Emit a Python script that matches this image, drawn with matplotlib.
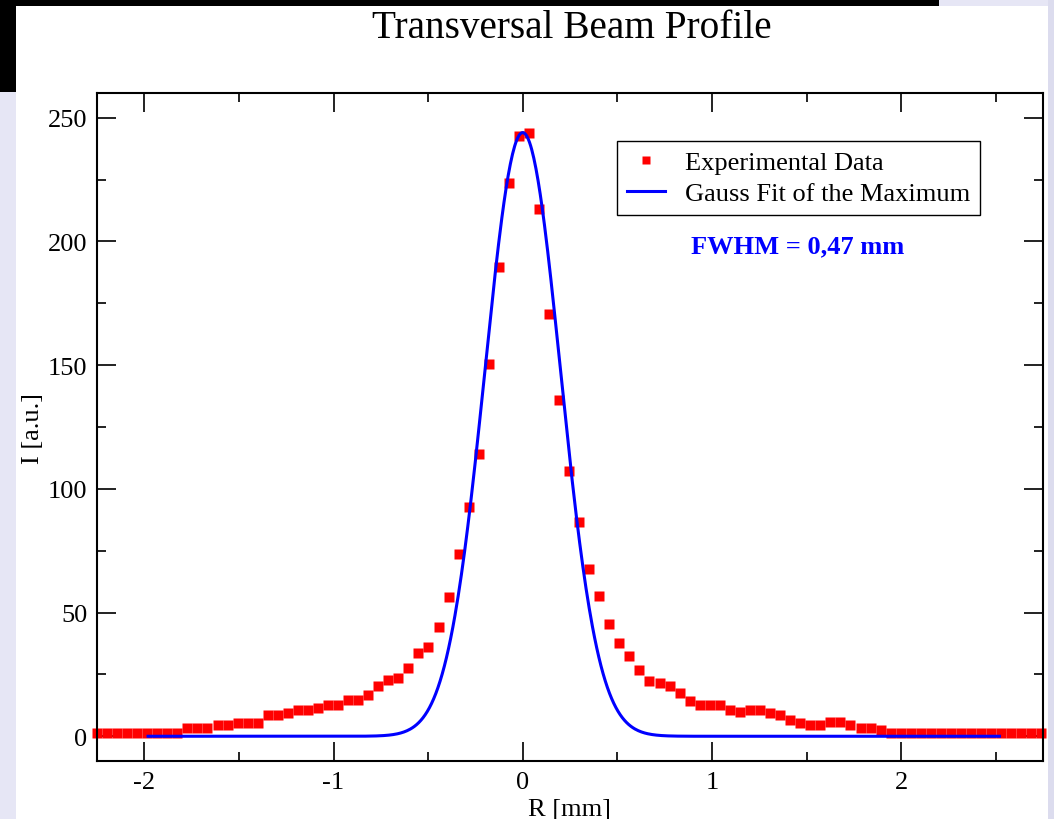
import matplotlib
matplotlib.use("Agg")
import matplotlib.pyplot as plt
import numpy as np
from matplotlib.patches import Rectangle
from matplotlib.ticker import MultipleLocator

# radial position of each sample (mm)
R_MM = [
    -2.250, -2.197, -2.144, -2.091, -2.038, -1.985, -1.931, -1.878, -1.825, -1.772,
    -1.719, -1.666, -1.613, -1.560, -1.507, -1.453, -1.400, -1.347, -1.294, -1.241,
    -1.188, -1.135, -1.082, -1.029, -0.976, -0.922, -0.869, -0.816, -0.763, -0.710,
    -0.657, -0.604, -0.551, -0.498, -0.445, -0.392, -0.338, -0.285, -0.232, -0.179,
    -0.126, -0.073, -0.020, 0.033, 0.086, 0.139, 0.193, 0.246, 0.299, 0.352,
    0.405, 0.458, 0.511, 0.564, 0.617, 0.670, 0.724, 0.777, 0.830, 0.883,
    0.936, 0.989, 1.042, 1.095, 1.148, 1.201, 1.255, 1.308, 1.361, 1.414,
    1.467, 1.520, 1.573, 1.626, 1.679, 1.732, 1.786, 1.839, 1.892, 1.945,
    1.998, 2.051, 2.104, 2.157, 2.210, 2.263, 2.317, 2.370, 2.423, 2.476,
    2.529, 2.582, 2.635, 2.688, 2.741,
]
# measured intensity (a.u.)
INTENSITY = [
    1.5, 1.5, 1.5, 1.5, 1.5, 1.5, 1.5, 1.5, 1.5, 3.5,
    3.5, 3.5, 4.5, 4.5, 5.5, 5.5, 5.5, 8.5, 8.5, 9.5,
    10.5, 10.5, 11.5, 12.5, 12.5, 14.8, 14.8, 16.5, 20.5, 22.6,
    23.5, 27.5, 33.5, 36.2, 44.3, 56.1, 73.6, 92.5, 114.0, 150.4,
    189.6, 223.6, 242.7, 243.7, 213.1, 170.6, 135.9, 107.3, 86.6, 67.6,
    56.8, 45.4, 37.7, 32.5, 26.6, 22.5, 21.7, 20.4, 17.5, 14.4,
    12.5, 12.5, 12.5, 10.8, 9.8, 10.5, 10.5, 9.4, 8.5, 6.5,
    5.4, 4.4, 4.4, 5.7, 5.7, 4.4, 3.5, 3.5, 2.7, 1.5,
    1.5, 1.5, 1.5, 1.5, 1.5, 1.5, 1.5, 1.5, 1.5, 1.5,
    1.5, 1.5, 1.5, 1.5, 1.5,
]

# Gauss fit of the maximum
FIT_AMP = 244.0
FIT_CENTER = 0.0
FWHM = 0.47
FIT_RANGE = (-1.98, 2.52)

plt.rcParams.update({
    "font.family": ["Liberation Serif", "DejaVu Serif"],
    "axes.unicode_minus": False,
})

W, H = 1054, 820
fig = plt.figure(figsize=(W / 100, H / 100), dpi=100, facecolor="white")

# slide background behind the pasted plot
bg = fig.add_axes([0, 0, 1, 1], zorder=-10)
bg.set_xlim(0, W)
bg.set_ylim(H, 0)
bg.axis("off")
bg.add_patch(Rectangle((0, 0), W, H, color="#e6e6f5", lw=0))
bg.add_patch(Rectangle((1048, 0), W - 1048, H, color="#dcdcee", lw=0))
bg.add_patch(Rectangle((16, 7), 1032, H - 7, color="white", lw=0))
bg.add_patch(Rectangle((0, 0), 939, 7, color="black", lw=0))
bg.add_patch(Rectangle((0, 0), 16, 93, color="black", lw=0))

ax = fig.add_axes([97 / W, 1 - 762 / H, (1043 - 97) / W, (762 - 94) / H])
ax.set_facecolor("none")

ax.plot(R_MM, INTENSITY, ls="none", marker="s", ms=7.3, color="#ff0000",
        mec="none", clip_on=False, zorder=2, label="Experimental Data")

sigma = FWHM / (2 * np.sqrt(2 * np.log(2)))
xs = np.linspace(FIT_RANGE[0], FIT_RANGE[1], 800)
ax.plot(xs, FIT_AMP * np.exp(-0.5 * ((xs - FIT_CENTER) / sigma) ** 2),
        color="#0000ff", lw=2.2, zorder=3, label="Gauss Fit of the Maximum")

ax.set_xlim(-2.25, 2.75)
ax.set_ylim(-10, 260)
ax.xaxis.set_major_locator(MultipleLocator(1))
ax.xaxis.set_minor_locator(MultipleLocator(0.5))
ax.yaxis.set_major_locator(MultipleLocator(50))
ax.yaxis.set_minor_locator(MultipleLocator(25))
ax.tick_params(which="both", direction="in", top=True, right=True,
               width=1.4, color="#222222", labelsize=19)
ax.tick_params(which="major", length=13.5, pad=7)
ax.tick_params(which="minor", length=6.8)
for sp in ax.spines.values():
    sp.set_linewidth(1.5)

ax.set_xlabel("R [mm]", fontsize=19, labelpad=4)
ax.set_ylabel("I [a.u.]", fontsize=19, labelpad=3)
fig.text(0.5425, 1 - 28 / H, "Transversal Beam Profile", fontsize=28.3,
         ha="center", va="center")

leg = ax.legend(loc="upper left", bbox_to_anchor=(617 / W, 1 - 142 / H),
                bbox_transform=fig.transFigure, fontsize=19, frameon=True,
                fancybox=False, edgecolor="black", framealpha=1,
                borderpad=0.38, handlelength=1.45, handletextpad=0.75,
                labelspacing=0.28, borderaxespad=0, markerscale=0.8)
leg.get_frame().set_linewidth(1.0)

ax.text(798 / W, 1 - 247 / H, "FWHM = 0,47 mm", transform=fig.transFigure,
        color="#0000ff", fontsize=19, fontweight="bold", ha="center", va="center")

fig.savefig("out.png", dpi=100)
